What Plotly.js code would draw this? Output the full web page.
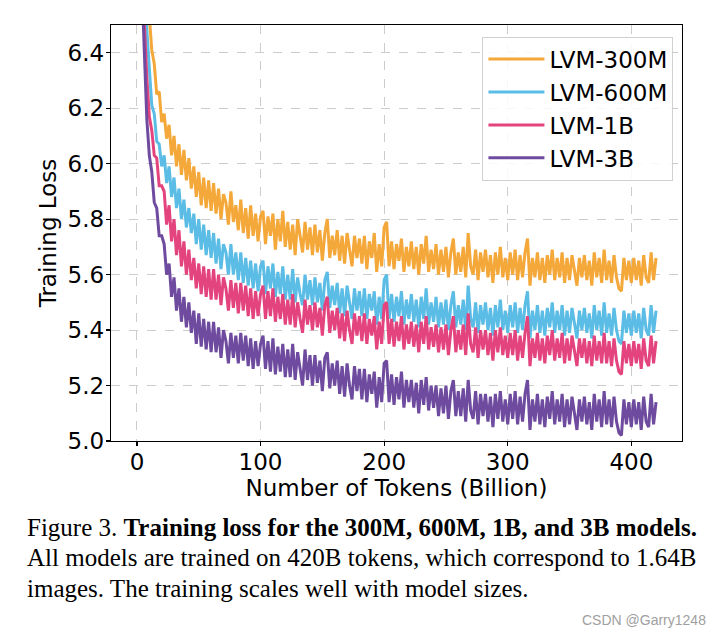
<!DOCTYPE html>
<html><head><meta charset="utf-8">
<script src="https://cdn.plot.ly/plotly-3.0.1.min.js"></script>
<style>html,body{margin:0;padding:0;background:#fff;}#chart{width:720px;height:638px;}</style>
</head><body><div id="chart"></div>
<script>
// Sampling grid: tokens (billion), every 2B from 2 to 420
const tokens = Array.from({length: 210}, (_, i) => 2 + 2 * i);

const seriesNames = ["LVM-300M", "LVM-600M", "LVM-1B", "LVM-3B"];
const seriesColors = ["#f5a83a", "#5bbde6", "#e3447d", "#6e4b9f"];

const loss300M = [
7.2,7.0,6.85,6.66,6.53,6.41,6.36,6.25,6.26,6.15,
6.18,6.09,6.14,6.03,6.10,5.99,6.07,5.96,6.05,5.94,
6.02,5.91,5.99,5.88,5.97,5.85,5.95,5.84,5.94,5.83,
5.93,5.82,5.91,5.80,5.89,5.86,5.78,5.90,5.79,5.85,
5.76,5.87,5.75,5.84,5.73,5.85,5.74,5.82,5.72,5.81,
5.83,5.71,5.81,5.74,5.82,5.69,5.80,5.72,5.83,5.70,
5.79,5.69,5.78,5.67,5.80,5.73,5.68,5.79,5.69,5.77,
5.67,5.78,5.68,5.76,5.65,5.75,5.80,5.66,5.74,5.67,
5.76,5.65,5.74,5.64,5.75,5.69,5.63,5.74,5.66,5.73,
5.64,5.74,5.62,5.72,5.66,5.75,5.61,5.71,5.63,5.77,
5.79,5.63,5.72,5.62,5.71,5.65,5.73,5.61,5.70,5.63,
5.72,5.62,5.70,5.60,5.71,5.64,5.74,5.61,5.69,5.62,
5.71,5.60,5.69,5.61,5.70,5.59,5.68,5.73,5.60,5.68,
5.61,5.70,5.59,5.75,5.63,5.60,5.69,5.58,5.68,5.61,
5.69,5.59,5.67,5.57,5.68,5.60,5.70,5.59,5.66,5.58,
5.68,5.60,5.69,5.58,5.67,5.59,5.68,5.73,5.56,5.66,
5.59,5.68,5.58,5.66,5.57,5.67,5.60,5.69,5.58,5.66,
5.59,5.68,5.57,5.66,5.58,5.67,5.61,5.56,5.66,5.59,
5.67,5.58,5.65,5.56,5.68,5.59,5.66,5.57,5.69,5.58,
5.65,5.57,5.67,5.59,5.55,5.54,5.66,5.58,5.65,5.57,
5.66,5.58,5.65,5.56,5.67,5.59,5.57,5.68,5.58,5.66];

const loss600M = [
7.0,6.85,6.65,6.48,6.34,6.21,6.18,6.08,6.07,5.99,
6.03,5.93,5.99,5.88,5.95,5.84,5.91,5.80,5.87,5.77,
5.84,5.75,5.82,5.71,5.80,5.69,5.78,5.67,5.76,5.66,
5.75,5.64,5.73,5.62,5.71,5.68,5.60,5.71,5.60,5.68,
5.58,5.68,5.57,5.66,5.56,5.65,5.55,5.64,5.54,5.63,
5.65,5.53,5.63,5.55,5.64,5.52,5.61,5.53,5.63,5.51,
5.60,5.51,5.62,5.50,5.59,5.53,5.49,5.60,5.51,5.58,
5.49,5.59,5.50,5.57,5.47,5.58,5.61,5.48,5.56,5.49,
5.57,5.46,5.55,5.45,5.56,5.49,5.44,5.55,5.47,5.54,
5.45,5.55,5.44,5.53,5.47,5.54,5.42,5.52,5.44,5.58,
5.60,5.44,5.53,5.43,5.52,5.45,5.54,5.42,5.51,5.44,
5.53,5.43,5.51,5.41,5.52,5.44,5.55,5.42,5.50,5.43,
5.52,5.41,5.50,5.42,5.51,5.40,5.49,5.54,5.41,5.49,
5.42,5.51,5.40,5.56,5.44,5.41,5.50,5.39,5.49,5.42,
5.50,5.40,5.48,5.38,5.49,5.41,5.51,5.40,5.47,5.39,
5.49,5.41,5.50,5.39,5.48,5.40,5.49,5.54,5.37,5.47,
5.40,5.49,5.39,5.47,5.38,5.48,5.41,5.50,5.39,5.47,
5.40,5.49,5.38,5.47,5.39,5.48,5.42,5.37,5.47,5.40,
5.48,5.39,5.46,5.37,5.49,5.40,5.47,5.38,5.50,5.39,
5.46,5.38,5.48,5.40,5.36,5.35,5.47,5.39,5.46,5.38,
5.47,5.39,5.46,5.37,5.48,5.40,5.38,5.49,5.39,5.47];

const loss1B = [
6.95,6.7,6.5,6.31,6.17,6.12,6.03,6.02,5.92,5.92,
5.90,5.78,5.85,5.72,5.80,5.67,5.76,5.63,5.72,5.60,
5.69,5.58,5.66,5.55,5.64,5.53,5.63,5.52,5.62,5.51,
5.62,5.51,5.60,5.49,5.59,5.55,5.47,5.58,5.48,5.57,
5.46,5.57,5.47,5.56,5.45,5.55,5.44,5.54,5.45,5.53,
5.56,5.44,5.54,5.45,5.55,5.43,5.52,5.44,5.53,5.42,
5.51,5.42,5.53,5.41,5.50,5.44,5.39,5.51,5.42,5.49,
5.40,5.50,5.41,5.48,5.38,5.49,5.52,5.39,5.47,5.40,
5.48,5.37,5.46,5.36,5.47,5.40,5.35,5.46,5.38,5.45,
5.36,5.46,5.35,5.44,5.38,5.45,5.33,5.43,5.35,5.49,
5.50,5.35,5.44,5.34,5.43,5.36,5.45,5.33,5.42,5.35,
5.43,5.34,5.42,5.32,5.43,5.35,5.45,5.33,5.41,5.34,
5.42,5.32,5.41,5.33,5.42,5.31,5.40,5.45,5.32,5.40,
5.33,5.42,5.31,5.46,5.35,5.32,5.41,5.30,5.40,5.33,
5.40,5.31,5.39,5.29,5.40,5.32,5.41,5.31,5.38,5.30,
5.39,5.31,5.40,5.29,5.38,5.30,5.39,5.45,5.27,5.37,
5.30,5.39,5.29,5.37,5.28,5.38,5.31,5.40,5.29,5.37,
5.30,5.39,5.28,5.37,5.29,5.38,5.32,5.27,5.37,5.30,
5.37,5.28,5.36,5.27,5.38,5.29,5.36,5.28,5.39,5.28,
5.36,5.27,5.37,5.29,5.25,5.24,5.36,5.28,5.35,5.27,
5.36,5.28,5.35,5.26,5.37,5.29,5.27,5.38,5.28,5.36];

const loss3B = [
6.9,6.68,6.40,6.16,6.03,5.97,5.86,5.84,5.74,5.74,
5.71,5.60,5.64,5.52,5.59,5.47,5.55,5.43,5.52,5.41,
5.50,5.39,5.47,5.35,5.46,5.34,5.44,5.33,5.43,5.32,
5.43,5.32,5.41,5.30,5.40,5.36,5.28,5.39,5.30,5.38,
5.28,5.39,5.29,5.38,5.27,5.37,5.26,5.36,5.27,5.35,
5.38,5.26,5.36,5.25,5.37,5.24,5.34,5.25,5.35,5.23,
5.33,5.23,5.35,5.22,5.32,5.26,5.20,5.33,5.22,5.31,
5.20,5.31,5.21,5.29,5.18,5.30,5.32,5.19,5.28,5.20,
5.29,5.17,5.27,5.16,5.28,5.20,5.15,5.27,5.18,5.26,
5.15,5.26,5.14,5.24,5.17,5.25,5.12,5.23,5.14,5.28,
5.29,5.14,5.24,5.13,5.23,5.15,5.25,5.12,5.22,5.14,
5.22,5.12,5.21,5.10,5.22,5.13,5.23,5.11,5.20,5.12,
5.20,5.09,5.19,5.10,5.20,5.08,5.18,5.22,5.09,5.18,
5.09,5.19,5.07,5.22,5.11,5.08,5.18,5.06,5.17,5.09,
5.17,5.07,5.16,5.05,5.17,5.08,5.18,5.07,5.15,5.06,
5.17,5.08,5.18,5.06,5.16,5.07,5.17,5.22,5.04,5.15,
5.07,5.17,5.06,5.15,5.05,5.16,5.08,5.18,5.06,5.15,
5.07,5.17,5.05,5.15,5.06,5.16,5.09,5.04,5.15,5.07,
5.16,5.06,5.14,5.04,5.17,5.07,5.15,5.05,5.18,5.06,
5.15,5.05,5.16,5.07,5.03,5.02,5.15,5.06,5.14,5.05,
5.15,5.06,5.14,5.04,5.16,5.07,5.05,5.17,5.06,5.14];

const xTicks = [0, 100, 200, 300, 400];
const yTicks = [5.0, 5.2, 5.4, 5.6, 5.8, 6.0, 6.2, 6.4];

const captionLines = [
  "Figure 3. <b>Training loss for the 300M, 600M, 1B, and 3B models.</b>",
  "All models are trained on 420B tokens, which correspond to 1.64B",
  "images. The training scales well with model sizes."
];
const watermark = "CSDN @Garry1248";

const allLoss = [loss300M, loss600M, loss1B, loss3B];
const traces = allLoss.map((ys, k) => ({
  type: "scatter", mode: "lines",
  x: tokens, y: ys, name: seriesNames[k],
  legendgroup: "g" + k,
  line: {color: seriesColors[k], width: 3}
}));

const FONT = "DejaVu Sans, sans-serif";
const FS = 23;
const annotations = captionLines.map((t, i) => ({
  xref: "paper", yref: "paper",
  x: (25 - 111) / 571, y: (441 - (527 + i * 30.5)) / 416,
  xanchor: "left", yanchor: "middle", showarrow: false,
  text: t, font: {family: "Liberation Serif, Times New Roman, serif", size: 25, color: "#000"}
}));
annotations.push({
  xref: "paper", yref: "paper",
  x: (708 - 111) / 571, y: (441 - 620) / 416,
  xanchor: "right", yanchor: "middle", showarrow: false,
  text: watermark, font: {family: "Liberation Sans, Arial, sans-serif", size: 14, color: "#a0a0a0"}
});

const layout = {
  width: 720, height: 638,
  margin: {l: 111, r: 38, t: 25, b: 197},
  paper_bgcolor: "#fff", plot_bgcolor: "#fff",
  font: {family: FONT, size: FS, color: "#000"},
  showlegend: true,
  legend: {
    x: 0.985, y: 0.972, xanchor: "right", yanchor: "top",
    bgcolor: "rgba(255,255,255,0.85)", bordercolor: "#d0d0d0", borderwidth: 1,
    font: {family: FONT, size: FS, color: "#000"},
    tracegroupgap: 0, itemwidth: 56
  },
  xaxis: {
    range: [-21, 441], tickvals: xTicks, ticktext: xTicks.map(String),
    showline: true, mirror: true, linecolor: "#000", linewidth: 1.2,
    ticks: "outside", ticklen: 4, tickcolor: "#000", tickwidth: 1.2,
    ticklabelstandoff: -4,
    showgrid: true, gridcolor: "#cccccc", griddash: "dash", gridwidth: 1,
    zeroline: false,
    tickfont: {family: FONT, size: FS},
    title: {text: "Number of Tokens (Billion)", font: {family: FONT, size: FS}, standoff: 0}
  },
  yaxis: {
    range: [5.0, 6.5], tickvals: yTicks, ticktext: yTicks.map(v => v.toFixed(1)),
    showline: true, mirror: true, linecolor: "#000", linewidth: 1.2,
    ticks: "outside", ticklen: 4, tickcolor: "#000", tickwidth: 1.2,
    ticklabelstandoff: -3,
    showgrid: true, gridcolor: "#cccccc", griddash: "dash", gridwidth: 1,
    zeroline: false,
    tickfont: {family: FONT, size: FS},
    title: {text: "Training Loss", font: {family: FONT, size: FS}, standoff: 4}
  },
  annotations: annotations
};

Plotly.newPlot("chart", traces, layout, {displayModeBar: false, staticPlot: true});
</script>
</body></html>
